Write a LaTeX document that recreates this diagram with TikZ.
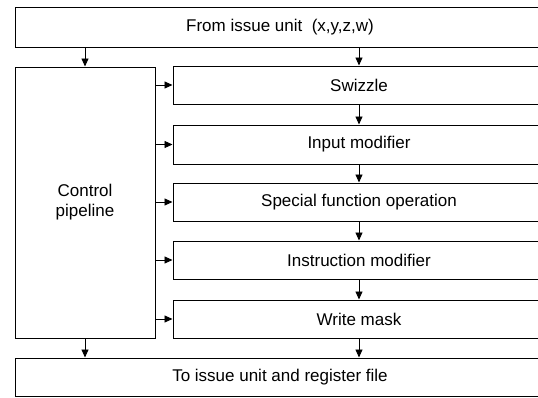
\documentclass[tikz,border=0pt]{standalone}
\usepackage{fontspec}
\setmainfont{Liberation Sans}
\usetikzlibrary{arrows.meta}
\begin{document}
\begin{tikzpicture}[x=1pt,y=-1pt,
  box/.style={draw, line width=1pt, inner sep=0pt, font=\fontsize{17}{20}\selectfont},
  rbox/.style={box, minimum width=372pt, minimum height=38pt},
  arr/.style={line width=0.9pt, -{Triangle[length=8pt,width=7pt]}}]
\clip (0,0) rectangle (538,397);
\useasboundingbox (0,0) rectangle (538,397);
\fill[white] (0,0) rectangle (538,397);
\node[box, minimum width=530pt, minimum height=40pt] (top) at (280,27) {From issue unit \ (x,y,z,w)};
\node[box, minimum width=530pt, minimum height=38pt] (bot) at (280,377) {To issue unit and register file};
\node[box, minimum width=140pt, minimum height=271pt, align=center] (ctrl) at (85,202.5) {Control\\pipeline};
\node[rbox] (sw) at (359,85) {Swizzle};
\node[rbox, minimum height=39pt] (inm) at (359,144.5) {Input modifier};
\node[rbox] (sp) at (359,202) {Special function operation};
\node[rbox] (ins) at (359,260) {Instruction modifier};
\node[rbox] (wm) at (359,319) {Write mask};
\draw[arr] (top.south -| ctrl.north) -- (ctrl.north);
\draw[arr] (ctrl.south) -- (bot.north -| ctrl.south);
\draw[arr] (top.south -| sw.north) -- (sw.north);
\draw[arr] (sw.south) -- (inm.north);
\draw[arr] (inm.south) -- (sp.north);
\draw[arr] (sp.south) -- (ins.north);
\draw[arr] (ins.south) -- (wm.north);
\draw[arr] (wm.south) -- (bot.north -| wm.south);
\foreach \n in {sw,inm,sp,ins,wm}
  \draw[arr] (ctrl.east |- \n.west) -- (\n.west);
\end{tikzpicture}
\end{document}
